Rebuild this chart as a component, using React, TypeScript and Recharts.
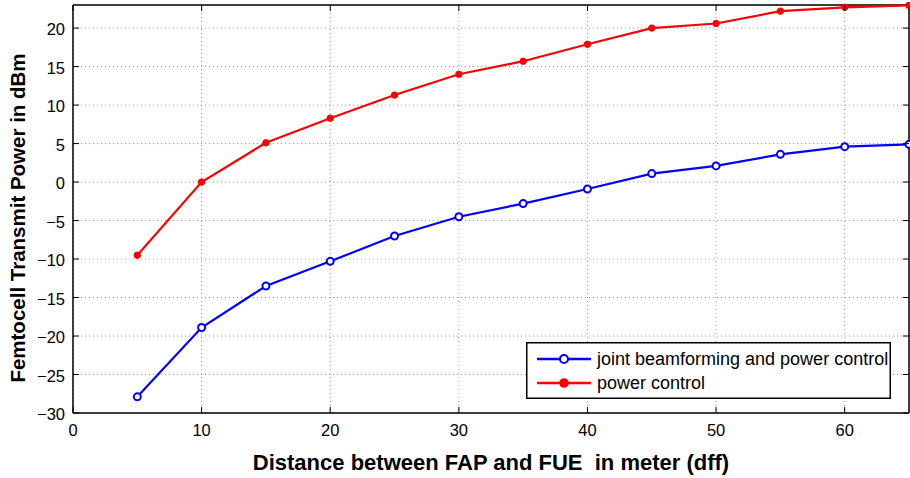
import { CartesianGrid, Line, LineChart, ReferenceLine, XAxis, YAxis } from "recharts";

const distances = [5, 10, 15, 20, 25, 30, 35, 40, 45, 50, 55, 60, 65];
const jointBfPc = [-27.9, -18.9, -13.5, -10.3, -7.0, -4.5, -2.8, -0.9, 1.1, 2.1, 3.6, 4.6, 4.9];
const powerControl = [-9.5, 0, 5.1, 8.3, 11.3, 14.0, 15.7, 17.9, 20.0, 20.6, 22.2, 22.7, 22.95];

const xTicks = [0, 10, 20, 30, 40, 50, 60];
const yTicks = [-30, -25, -20, -15, -10, -5, 0, 5, 10, 15, 20];

const data = distances.map((d, i) => ({ d, joint: jointBfPc[i], pc: powerControl[i] }));

const W = 910;
const H = 478;
const TOP = 5;
const LEFT = 73;
const RIGHT = 909;
const BOTTOM = 413;
const FONT = "'Liberation Sans', Arial, Helvetica, sans-serif";
const BLUE = "#0000ff";
const RED = "#ff0000";

function XTick({ x, payload }: any) {
  return (
    <g>
      <line x1={x} x2={x} y1={BOTTOM} y2={BOTTOM - 6} stroke="#000" />
      <line x1={x} x2={x} y1={TOP} y2={TOP + 6} stroke="#000" />
      <text x={x} y={436} textAnchor="middle" fontSize={16.5} fontFamily={FONT} fill="#000">
        {payload.value}
      </text>
    </g>
  );
}

function YTick({ y, payload }: any) {
  const label = payload.value < 0 ? `\u2212${Math.abs(payload.value)}` : `${payload.value}`;
  return (
    <g>
      <line x1={LEFT} x2={LEFT + 6} y1={y} y2={y} stroke="#000" />
      <line x1={RIGHT} x2={RIGHT - 6} y1={y} y2={y} stroke="#000" />
      <text x={LEFT - 8} y={y + 7} textAnchor="end" fontSize={16.5} fontFamily={FONT} fill="#000">
        {label}
      </text>
    </g>
  );
}

const legendRows = [
  { name: "joint beamforming and power control", color: BLUE, hollow: true },
  { name: "power control", color: RED, hollow: false },
];

function LegendBox() {
  return (
    <svg width={365} height={57} style={{ position: "absolute", left: 526, top: 342, display: "block" }}>
      <rect x={0.75} y={0.75} width={363.5} height={55.5} fill="#fff" stroke="#000" strokeWidth={1.5} />
      {legendRows.map((r, i) => {
        const cy = 17 + i * 24;
        return (
          <g key={r.name}>
            <line x1={11} x2={65} y1={cy} y2={cy} stroke={r.color} strokeWidth={2.5} />
            <circle cx={38} cy={cy} r={r.hollow ? 4 : 3.8} fill={r.hollow ? "#fff" : r.color} stroke={r.color} strokeWidth={2} />
            <text x={71} y={cy + 6} fontSize={18} fontFamily={FONT} fill="#000">
              {r.name}
            </text>
          </g>
        );
      })}
    </svg>
  );
}

export default function App() {
  return (
    <div style={{ position: "absolute", left: 0, top: 0, width: W, height: H, background: "#fff" }}>
      <LineChart width={W} height={H} data={data} margin={{ top: TOP, right: W - RIGHT, bottom: 0, left: 0 }}>
        <CartesianGrid stroke="#999" strokeDasharray="1 3" />
        <XAxis
          dataKey="d"
          type="number"
          domain={[0, 65]}
          ticks={xTicks}
          height={H - BOTTOM}
          tickLine={false}
          axisLine={{ stroke: "#000", strokeWidth: 1.5 }}
          tick={<XTick />}
          label={{
            content: () => (
              <text x={(LEFT + RIGHT) / 2} y={470} textAnchor="middle" fontSize={22} fontWeight="bold" fontFamily={FONT} fill="#000">
                Distance between FAP and FUE{"\u00a0 "}in meter (dff)
              </text>
            ),
          }}
        />
        <YAxis
          type="number"
          domain={[-30, 23]}
          ticks={yTicks}
          width={LEFT}
          tickLine={false}
          axisLine={{ stroke: "#000", strokeWidth: 1.5 }}
          tick={<YTick />}
          label={{
            content: () => (
              <text
                x={25}
                y={218}
                transform="rotate(-90 25 218)"
                textAnchor="middle"
                fontSize={20.5}
                fontWeight="bold"
                fontFamily={FONT}
                fill="#000"
              >
                Femtocell Transmit Power in dBm
              </text>
            ),
          }}
        />
        <ReferenceLine y={23} stroke="#000" strokeWidth={1.5} />
        <ReferenceLine x={65} stroke="#000" strokeWidth={1.5} />
        <Line
          dataKey="joint"
          name="joint beamforming and power control"
          stroke={BLUE}
          strokeWidth={2.2}
          dot={{ r: 3.5, fill: "#fff", stroke: BLUE, strokeWidth: 2 }}
          isAnimationActive={false}
        />
        <Line
          dataKey="pc"
          name="power control"
          stroke={RED}
          strokeWidth={2.2}
          dot={{ r: 3.2, fill: RED, stroke: RED, strokeWidth: 1 }}
          isAnimationActive={false}
        />
      </LineChart>
      <LegendBox />
    </div>
  );
}
